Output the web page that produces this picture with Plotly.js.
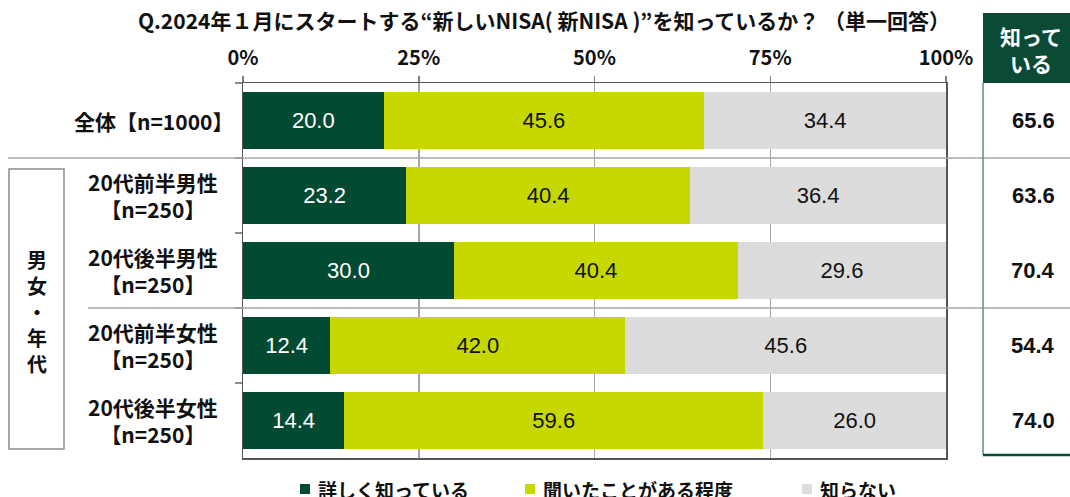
<!DOCTYPE html>
<html>
<head>
<meta charset="utf-8">
<script src="https://cdn.plot.ly/plotly-3.0.1.min.js"></script>
<style>html,body{margin:0;padding:0;background:#fff;}#chart{width:1070px;height:497px;}</style>
</head>
<body>
<div id="chart"></div>
<script>
const categories = ['全体【n=1000】', '20代前半男性<br>【n=250】', '20代後半男性<br>【n=250】', '20代前半女性<br>【n=250】', '20代後半女性<br>【n=250】'];
const seriesNames = ['詳しく知っている', '聞いたことがある程度', '知らない'];
const detailed = [20.0, 23.2, 30.0, 12.4, 14.4];
const heard = [45.6, 40.4, 40.4, 42.0, 59.6];
const unknown = [34.4, 36.4, 29.6, 45.6, 26.0];
const knownTotal = [65.6, 63.6, 70.4, 54.4, 74.0];
const knownHeader = '知って<br>いる';
const groupLabel = '男<br>女<br>・<br>年<br>代';
const xTickVals = [0, 25, 50, 75, 100];
const xTickText = ['0%', '25%', '50%', '75%', '100%'];
const titleText = 'Q.2024年１月にスタートする“新しいNISA( 新NISA )”を知っているか？ （単一回答）';

const FONT = '"Noto Sans CJK JP", "Noto Sans", sans-serif';
const NUMFONT = '"Liberation Sans", Arial, sans-serif';
const colors = ['#034A32', '#C6D800', '#DCDCDC'];
const textColors = ['#ffffff', '#111111', '#111111'];
const seriesValues = [detailed, heard, unknown];

const L = 243, R = 946, T = 83, B = 458, W = 1070, H = 497;
const px = v => (v - L) / (R - L);
const py = v => (B - v) / (B - T);

const traces = seriesValues.map((vals, i) => ({
  type: 'bar',
  orientation: 'h',
  name: seriesNames[i],
  x: vals,
  y: categories,
  marker: {color: colors[i], line: {width: 0}},
  text: vals.map(v => v.toFixed(1)),
  textposition: 'inside',
  insidetextanchor: 'middle',
  textfont: {family: NUMFONT, size: 22, color: textColors[i]},
  constraintext: 'none',
  hoverinfo: 'none',
  showlegend: false
}));

const annotations = [];
categories.forEach((c, i) => {
  annotations.push({
    xref: 'paper', yref: 'y', x: px(153), y: c, text: c,
    showarrow: false, xanchor: 'center', yanchor: 'middle', align: 'center',
    font: {family: FONT, size: 21, color: '#111', weight: 'bold'}
  });
  annotations.push({
    xref: 'paper', yref: 'y', x: px(1033), y: c, text: knownTotal[i].toFixed(1),
    showarrow: false, xanchor: 'center', yanchor: 'middle',
    font: {family: NUMFONT, size: 22, color: '#111', weight: 'bold'}
  });
});
annotations.push({
  xref: 'paper', yref: 'paper', x: px(1031), y: py(50), text: knownHeader,
  showarrow: false, xanchor: 'center', yanchor: 'middle', align: 'center',
  font: {family: FONT, size: 21, color: '#ffffff', weight: 'bold'}
});
annotations.push({
  xref: 'paper', yref: 'paper', x: px(37), y: py(311), text: groupLabel,
  showarrow: false, xanchor: 'center', yanchor: 'middle', align: 'center',
  font: {family: FONT, size: 20, color: '#111', weight: 'bold'}
});
const legendSquareX = [300, 525, 802];
seriesNames.forEach((n, i) => {
  annotations.push({
    xref: 'paper', yref: 'paper', x: px(legendSquareX[i] + 16), y: py(489), text: n,
    showarrow: false, xanchor: 'left', yanchor: 'middle',
    font: {family: FONT, size: 19, color: '#111', weight: 'bold'}
  });
});

const shapes = [
  {type: 'line', xref: 'paper', yref: 'y', x0: px(8), x1: px(1070), y0: 0.5, y1: 0.5, line: {color: '#a6a6a6', width: 1.5}},
  {type: 'line', xref: 'paper', yref: 'y', x0: px(88), x1: px(1070), y0: 2.5, y1: 2.5, line: {color: '#a6a6a6', width: 1.5}},
  {type: 'rect', xref: 'paper', yref: 'paper', x0: px(9), x1: px(64), y0: py(449), y1: py(169), line: {color: '#8c8c8c', width: 1.5}, fillcolor: 'rgba(0,0,0,0)'},
  {type: 'rect', xref: 'paper', yref: 'paper', x0: px(983), x1: px(1075), y0: py(83), y1: py(13), line: {width: 0}, fillcolor: '#0B4A35'},
  {type: 'line', xref: 'paper', yref: 'paper', x0: px(983), x1: px(983), y0: py(455), y1: py(83), line: {color: '#5E8C7C', width: 1.5}},
  {type: 'line', xref: 'paper', yref: 'paper', x0: px(983), x1: px(1075), y0: py(455), y1: py(455), line: {color: '#0B4A35', width: 2.5}}
];
legendSquareX.forEach((x, i) => {
  shapes.push({type: 'rect', xref: 'paper', yref: 'paper', x0: px(x), x1: px(x + 10), y0: py(494), y1: py(484), line: {width: 0}, fillcolor: colors[i]});
});

const layout = {
  width: W, height: H,
  margin: {l: L, r: W - R, t: T, b: H - B, pad: 0},
  paper_bgcolor: '#ffffff', plot_bgcolor: '#ffffff',
  barmode: 'stack', bargap: 0.24,
  showlegend: false,
  title: {
    text: titleText, xref: 'container', yref: 'container',
    x: 544 / W, y: 1 - 22 / H, xanchor: 'center', yanchor: 'middle',
    font: {family: FONT, size: 21, color: '#111', weight: 'bold'}
  },
  xaxis: {
    side: 'top', range: [0, 100], tickvals: xTickVals, ticktext: xTickText,
    ticks: 'outside', ticklen: 6, tickcolor: '#7f7f7f', tickwidth: 1.5,
    showline: true, linecolor: '#555555', linewidth: 1.5, mirror: true,
    showgrid: true, gridcolor: '#a6a6a6', gridwidth: 1.5, zeroline: false,
    ticklabelstandoff: 3,
    tickfont: {family: FONT, size: 20, color: '#111', weight: 'bold'},
    fixedrange: true
  },
  yaxis: {
    type: 'category', autorange: 'reversed',
    showticklabels: false, ticks: 'outside', tickson: 'boundaries', ticklen: 7,
    tickcolor: '#8c8c8c', tickwidth: 1.5,
    showline: true, linecolor: '#555555', linewidth: 1.5, mirror: true,
    showgrid: false, zeroline: false, fixedrange: true
  },
  annotations: annotations,
  shapes: shapes
};

Plotly.newPlot('chart', traces, layout, {displayModeBar: false, staticPlot: true});
</script>
</body>
</html>
